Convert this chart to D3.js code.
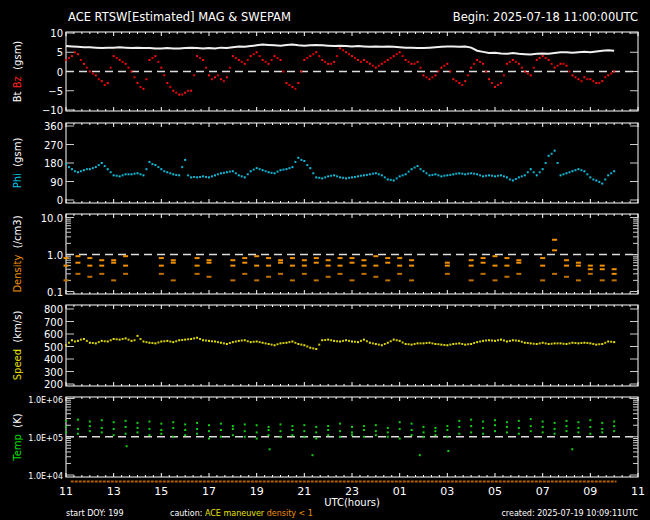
<!DOCTYPE html>
<html>
<head>
<meta charset="utf-8">
<script src="https://cdn.jsdelivr.net/npm/d3@7"></script>
<style>
  body { margin: 0; background: #000; }
  svg { display: block; font-family: "DejaVu Sans", sans-serif; }
</style>
</head>
<body>
<svg id="chart" width="650" height="520"></svg>
<script>
// quarter-hour samples, hours since 11:00 UTC
const bz = [3,4,4.5,2, 0,-1,-2.5,-3, 4,3,2,0, -3,-4.5,3,4, 1,-3,-5,-6, -5.5,-5,4,3, -1,-1.5,-2,-1.5, 4,3,2,4,
  5,3,2,4, 3,-3,-4,-3, 3,4,5,3, 2,2.5,6,5, 4,3,3,2, 1,2,3,4, 5,3,2,2.5, -1,-2,-1,1, 2,-2,-3,-2.5, 1,3,2,-2,
  -4,-3,2,3, 2,0,-1,3, 4,3,1,2, 1.5,-1,-2,-1.5, -2,-3,-2.5,-1, 0];
// samples between the quarter hours
const bz2 = [3.5,5,3,1, -0.5,-2,-3.5,1, 3.5,2.5,1,-1.5, -4,-2,3.5,2.5, -1,-4,-5.5,-6, -5,-1,3.5,1, -2,-1,-2.5,1,
  3.5,2.5,3,4.5, 4,2.5,3,3.5, 0,-3.5,-4.5,0, 3.5,4.5,4,2.5, 2,4,5.5,4.5, 3.5,2.5,2.5,1.5, 1.5,2.5,3.5,4.5,
  4,2.5,2,1, -1.5,-1.5,0,1.5, 0,-2.5,-3.5,-1, 2,2.5,0,-3, -3.5,-1,2.5,2.5, 1,-0.5,1,3.5, 3.5,2,1.5,2,
  0,-1.5,-2.5,-2, -2.5,-3,-1.5,-0.5];
const bt = [6.6,6.5,6.4,6.3, 6.3,6.2,6.1,6.2, 6.2,6.3,6.2,6.1, 6.2,6.1,6.1,6.0, 6.0,6.1,6.0,6.0, 6.1,6.2,6.1,6.0,
  6.1,6.0,6.2,6.1, 6.3,6.5,6.4,6.6, 6.8,7.0,6.9,6.8, 6.7,6.9,7.0,6.8, 6.7,6.8,6.9,6.8, 6.7,6.6,6.7,6.6,
  6.5,6.6,6.5,6.4, 6.5,6.4,6.5,6.4, 6.3,6.2,6.2,6.1, 6.1,6.2,6.3,6.4, 6.5,6.5,6.4,6.5, 6.2,5.4,5.1,4.8,
  4.9,4.7,4.6,4.8, 4.6,4.5,4.4,4.6, 4.7,4.6,4.8,5.0, 5.0,4.9,5.0,5.1, 5.0,5.2,5.4,5.5, 5.4];
const phi = [175,150,135,145, 150,160,180,150, 120,115,125,125, 130,120,185,170, 150,135,125,120, 195,110,110,115,
  110,120,130,135, 140,120,110,140, 155,145,135,130, 145,150,160,205, 190,155,110,105, 115,120,110,105,
  110,115,120,125, 130,120,100,95, 115,125,150,165, 140,120,125,115, 120,125,130,125, 130,125,115,120,
  115,120,110,95, 110,120,150,120, 150,215,240,120, 130,140,150,140, 110,95,80,120, 140];
const phi2 = [160,140,140,150, 155,170,165,135, 118,120,125,128, 125,150,175,160, 140,130,122,160, 120,112,112,112,
  115,125,132,138, 130,115,125,148, 150,140,132,138, 148,155,185,195, 170,130,108,110, 118,115,108,108,
  112,118,122,128, 125,110,98,105, 120,138,158,150, 130,122,120,118, 122,128,128,128, 128,120,118,118,
  118,115,100,102, 115,135,135,135, 180,225,180,125, 135,145,145,125, 100,88,100,130];
const speed = [510,550,545,560, 530,525,545,540, 560,555,565,545, 585,540,530,525, 540,545,535,550, 555,560,570,550,
  545,540,530,520, 535,545,550,535, 540,530,520,510, 525,530,540,520, 510,490,480,550, 555,545,540,550,
  540,535,555,530, 520,510,530,555, 545,520,515,525, 525,530,520,515, 510,520,525,515, 520,535,545,550,
  545,555,540,550, 545,530,525,520, 530,520,525,525, 520,530,525,530, 525,515,520,540, 535];
const speed2 = [530,540,555,545, 528,535,542,550, 558,560,555,550, 560,535,528,532, 542,540,542,552, 558,565,560,548,
  542,535,525,528, 540,548,542,538, 535,525,515,518, 528,535,530,515, 500,485,515,552, 550,542,545,545,
  538,545,542,525, 515,520,542,550, 532,518,520,525, 528,525,518,512, 515,522,520,518, 528,540,548,548,
  550,548,545,548, 538,528,522,525, 525,522,525,522, 525,528,528,528, 520,518,530,538];
// half-hour samples
const densHi = [0.8,0.9,0.8,0.7,0.7,0.9,null,null,0.8,0.7, null,0.8,0.7,null,0.7,0.8,0.9,0.8,0.7,0.8,
  0.7,0.8,0.7,0.8,0.8,0.7,0.9,0.8,0.8,0.7, null,null,0.6,null,0.7,0.8,0.9,0.8,0.7,null, 0.8,2.5,0.7,0.6,0.5,0.5,0.4];
const densMid = [0.5,0.6,0.5,0.5,0.6,0.5,null,null,0.5,0.6, null,0.5,0.6,null,0.5,0.6,0.5,0.5,0.6,0.5,
  0.5,0.6,0.5,0.5,0.6,0.5,0.5,0.6,0.5,0.5, null,null,0.5,null,0.5,0.6,0.5,0.5,0.6,null, 0.5,1.3,0.5,0.5,0.4,0.4,0.3];
const densLo = [0.2,0.3,0.25,0.3,0.2,0.3,null,null,0.3,0.2, null,0.3,0.25,null,0.2,0.3,0.2,0.25,0.3,0.2,
  0.3,0.2,0.25,0.3,0.2,0.3,0.25,0.2,0.3,0.2, null,null,0.3,null,0.2,0.3,0.2,0.25,0.3,null, 0.2,0.3,0.25,0.2,0.3,0.2,0.2];
const tempHi = [2.6e5,2.8e5,2.5e5,2.7e5,2.4e5,2.6e5,2.3e5,2.5e5,2.2e5,2.4e5,2.1e5,2.3e5,2.0e5,2.2e5,1.9e5,2.1e5,
  2.0e5,1.8e5,2.1e5,1.9e5,2.0e5,1.8e5,1.9e5,2.2e5,1.8e5,1.9e5,2.0e5,1.7e5,2.4e5,2.2e5,1.8e5,1.7e5,1.9e5,2.6e5,
  2.8e5,2.5e5,2.7e5,2.4e5,2.6e5,2.9e5,2.5e5,2.3e5,2.6e5,2.4e5,2.7e5,2.3e5,2.5e5];
const tempMid = [1.8e5,1.6e5,1.9e5,1.7e5,1.6e5,1.8e5,1.7e5,1.6e5,1.5e5,1.7e5,1.5e5,1.6e5,1.4e5,1.5e5,1.6e5,1.4e5,
  1.3e5,1.5e5,1.4e5,1.5e5,1.4e5,1.3e5,1.5e5,1.4e5,1.3e5,1.5e5,1.4e5,1.3e5,1.6e5,1.5e5,1.3e5,1.4e5,1.5e5,1.8e5,
  1.9e5,1.7e5,2.0e5,1.8e5,1.7e5,1.9e5,1.8e5,1.6e5,1.9e5,1.7e5,1.8e5,1.6e5,1.9e5];
const tempLo = [1.3e5,1.2e5,1.4e5,1.3e5,1.1e5,1.2e5,1.3e5,1.1e5,1.2e5,1.0e5,1.1e5,1.2e5,9e4,1.0e5,1.1e5,1.0e5,
  9e4,1.1e5,1.0e5,1.1e5,1.0e5,9e4,1.1e5,1.0e5,1.1e5,1.0e5,1.1e5,1.0e5,9e4,1.1e5,1.0e5,1.1e5,1.0e5,1.2e5,
  1.3e5,1.2e5,1.4e5,1.3e5,1.2e5,1.4e5,1.3e5,1.2e5,1.4e5,1.3e5,1.2e5,1.3e5,1.4e5];
const tempOut = [[2.5,6e4],[8.5,5e4],[10.3,3.5e4],[14.8,3.5e4],[16,4.5e4],[21.2,5e4]];
const hourLabels = ["11","13","15","17","19","21","23","01","03","05","07","09","11"];

const svg = d3.select("#chart");
const x = d3.scaleLinear().domain([0, 24]).range([66, 638]);
const q = (i) => i * 0.25, q2 = (i) => (i + 0.5) * 0.25, h = (i) => i * 0.5;

const panels = [
  { top: 32, bot: 111, y: d3.scaleLinear().domain([-10, 10]).range([110, 33]), ticks: [10,5,0,-5,-10], fmt: d3.format("d"), dash: 0,
    title: [["Bt", "#fff"], [" Bz", "#ff2020"], ["  (gsm)", "#fff"]] },
  { top: 123, bot: 203, y: d3.scaleLinear().domain([0, 360]).range([200, 126]), ticks: [360,270,180,90,0], fmt: d3.format("d"),
    title: [["Phi", "#00c8e8"], ["  (gsm)", "#fff"]] },
  { top: 214, bot: 294, y: d3.scaleLog().domain([0.1, 10]).range([291.5, 217.5]), ticks: [10,1,0.1], fmt: d3.format(".1f"), dash: 1, log: true,
    title: [["Density", "#f09000"], ["  (/cm3)", "#fff"]] },
  { top: 305, bot: 386, y: d3.scaleLinear().domain([200, 800]).range([384, 309]), ticks: [800,700,600,500,400,300,200], fmt: d3.format("d"),
    title: [["Speed", "#e8e000"], ["  (km/s)", "#fff"]] },
  { top: 397, bot: 477, y: d3.scaleLog().domain([1e4, 1e6]).range([475, 398.5]), ticks: [1e6,1e5,1e4], fmt: (d) => d.toExponential(1).toUpperCase().replace("E+", "E+0"), dash: 1e5, log: true,
    title: [["Temp", "#00e000"], ["  (K)", "#fff"]] }
];

const minor = d3.range(0, 24.01, 1 / 3);
panels.forEach((p) => {
  const g = svg.append("g");
  g.append("rect").attr("x", 66).attr("y", p.top).attr("width", 572).attr("height", p.bot - p.top)
    .attr("fill", "none").attr("stroke", "#fff").attr("stroke-width", 1);
  // time ticks along top and bottom
  minor.forEach((t, k) => {
    const len = k % 6 === 0 ? 4 : 2;
    g.append("line").attr("x1", x(t)).attr("x2", x(t)).attr("y1", p.top).attr("y2", p.top + len).attr("stroke", "#fff");
    g.append("line").attr("x1", x(t)).attr("x2", x(t)).attr("y1", p.bot).attr("y2", p.bot - len).attr("stroke", "#fff");
  });
  // value ticks
  const all = p.log ? p.y.ticks() : p.ticks;
  all.forEach((v) => {
    const major = p.ticks.includes(v);
    const len = major ? 8 : 5;
    [[66, 66 + len], [638, 638 - len]].forEach(([a, b]) =>
      g.append("line").attr("x1", a).attr("x2", b).attr("y1", p.y(v)).attr("y2", p.y(v)).attr("stroke", "#ccc"));
  });
  p.ticks.forEach((v) => {
    g.append("text").attr("x", 63).attr("y", p.y(v) + 4).attr("text-anchor", "end")
      .attr("fill", "#fff").attr("font-size", p.log && v >= 1e4 ? 8 : 10).text(p.fmt(v));
  });
  if (p.dash !== undefined) {
    g.append("line").attr("x1", 66).attr("x2", 638).attr("y1", p.y(p.dash)).attr("y2", p.y(p.dash))
      .attr("stroke", "#ddd").attr("stroke-dasharray", "8,5").attr("stroke-width", 1.3);
  }
  const tt = g.append("text").attr("transform", `translate(21,${(p.top + p.bot) / 2}) rotate(-90)`)
    .attr("text-anchor", "middle").attr("font-size", 10);
  p.title.forEach(([s, c]) => tt.append("tspan").attr("fill", c).attr("xml:space", "preserve").text(s));
});

function dots(data, tf, y, color, w = 2, hgt = w) {
  svg.append("g").selectAll("rect").data(data.map((v, i) => [tf(i), v]).filter((d) => d[1] !== null))
    .join("rect").attr("x", (d) => x(d[0]) - w / 2).attr("y", (d) => y(d[1]) - hgt / 2)
    .attr("width", w).attr("height", hgt).attr("fill", color);
}
svg.append("path")
  .datum(bt.map((v, i) => [q(i), v]))
  .attr("d", d3.line().x((d) => x(d[0])).y((d) => panels[0].y(d[1])))
  .attr("fill", "none").attr("stroke", "#f0f0f0").attr("stroke-width", 2);

dots(bz, q, panels[0].y, "#ff1010");
dots(bz2, q2, panels[0].y, "#e00000");
dots(phi, q, panels[1].y, "#10c0e0");
dots(phi2, q2, panels[1].y, "#10b0d0");
dots(densHi, h, panels[2].y, "#f09000", 5, 2);
dots(densMid, h, panels[2].y, "#f09000", 5, 2);
dots(densLo, h, panels[2].y, "#c07000", 5, 2);
dots(speed, q, panels[3].y, "#e8e000");
dots(speed2, q2, panels[3].y, "#d0c800");
dots(tempHi, h, panels[4].y, "#10d010");
dots(tempMid, h, panels[4].y, "#10d010");
dots(tempLo, h, panels[4].y, "#10d010");
svg.append("g").selectAll("rect").data(tempOut).join("rect")
  .attr("x", (d) => x(d[0])).attr("y", (d) => panels[4].y(d[1])).attr("width", 2).attr("height", 2).attr("fill", "#10d010");

// density < 1 flag bar
svg.append("line").attr("x1", x(0.2)).attr("x2", x(23.1)).attr("y1", 481.5).attr("y2", 481.5)
  .attr("stroke", "#b06000").attr("stroke-width", 2).attr("stroke-dasharray", "3,1");

// x labels
hourLabels.forEach((s, i) => {
  svg.append("text").attr("x", x(i * 2)).attr("y", 495).attr("text-anchor", "middle")
    .attr("fill", "#fff").attr("font-size", 11).text(s);
});
svg.append("text").attr("x", 352).attr("y", 506).attr("text-anchor", "middle").attr("fill", "#fff").attr("font-size", 10).text("UTC(hours)");

// titles and footer
svg.append("text").attr("x", 68).attr("y", 21).attr("fill", "#fff").attr("font-size", 11.5).text("ACE RTSW[Estimated] MAG & SWEPAM");
svg.append("text").attr("x", 638).attr("y", 21).attr("text-anchor", "end").attr("fill", "#fff").attr("font-size", 11.5).text("Begin: 2025-07-18 11:00:00UTC");
svg.append("text").attr("x", 66).attr("y", 516).attr("fill", "#fff").attr("font-size", 8).text("start DOY: 199");
const ft = svg.append("text").attr("x", 170).attr("y", 516).attr("font-size", 8);
ft.append("tspan").attr("fill", "#fff").text("caution:  ");
ft.append("tspan").attr("fill", "#e8e000").text("ACE maneuver  ");
ft.append("tspan").attr("fill", "#f09000").text("density < 1");
svg.append("text").attr("x", 638).attr("y", 516).attr("text-anchor", "end").attr("fill", "#fff").attr("font-size", 8).text("created: 2025-07-19 10:09:11UTC");
</script>
</body>
</html>
